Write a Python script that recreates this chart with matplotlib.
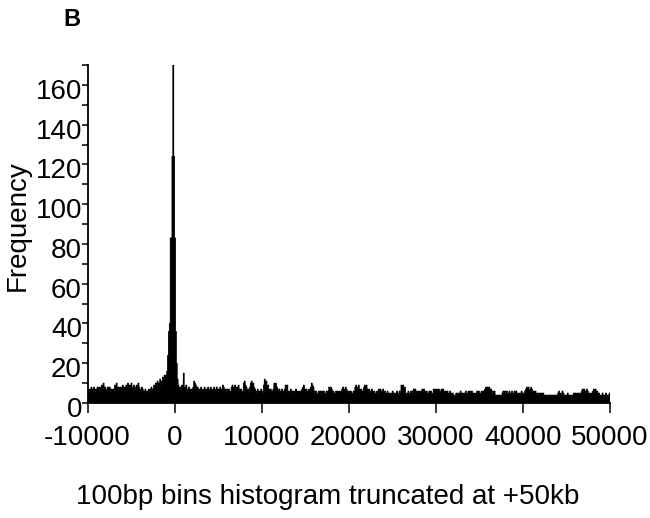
import numpy as np
import matplotlib
matplotlib.use("Agg")
import matplotlib.pyplot as plt
from matplotlib.ticker import MultipleLocator
from matplotlib.transforms import ScaledTranslation

# 100 bp bins from -10000 to +50000 (600 bins)
bin_start = -10000
bin_width = 100
counts = [
    6, 7, 5, 7, 8, 6, 7, 8, 5, 7, 6, 8, 7, 8, 6, 8, 9, 7, 10, 8,
    8, 7, 6, 8, 7, 8, 6, 7, 5, 7, 6, 9, 8, 10, 7, 8, 6, 8, 7, 8,
    9, 7, 8, 6, 9, 8, 10, 7, 9, 8, 10, 8, 7, 9, 6, 8, 9, 7, 10, 8,
    7, 6, 8, 7, 5, 6, 7, 5, 6, 6, 7, 5, 7, 8, 6, 7, 9, 8, 10, 7,
    11, 9, 10, 12, 9, 11, 13, 12, 14, 12, 14, 16, 24, 36, 40, 83, 83, 124, 170, 124,
    83, 36, 20, 12, 9, 7, 8, 6, 9, 8, 15, 8, 7, 9, 6, 7, 8, 6, 7, 5,
    7, 8, 11, 10, 9, 7, 8, 6, 7, 5, 8, 7, 6, 7, 8, 6, 7, 5, 8, 7,
    6, 8, 7, 5, 7, 8, 6, 7, 8, 6, 7, 5, 8, 6, 7, 9, 8, 6, 7, 5,
    7, 6, 7, 5, 6, 8, 9, 7, 8, 9, 7, 8, 6, 9, 7, 6, 7, 5, 6, 10,
    11, 9, 8, 6, 7, 5, 8, 10, 11, 9, 10, 8, 7, 6, 5, 7, 6, 5, 6, 7,
    6, 5, 9, 12, 10, 11, 8, 9, 7, 6, 7, 5, 6, 7, 10, 9, 10, 8, 7, 6,
    7, 5, 6, 7, 5, 6, 7, 9, 8, 9, 6, 5, 6, 7, 5, 6, 4, 6, 5, 7,
    6, 5, 6, 4, 6, 5, 7, 8, 9, 7, 6, 7, 5, 6, 7, 6, 8, 10, 9, 8,
    6, 5, 6, 4, 5, 6, 5, 6, 4, 6, 5, 6, 5, 4, 6, 5, 6, 8, 7, 8,
    7, 5, 6, 5, 4, 6, 5, 6, 5, 6, 4, 6, 7, 8, 7, 6, 8, 7, 6, 5,
    6, 5, 6, 5, 4, 6, 5, 8, 9, 7, 8, 9, 7, 6, 7, 5, 6, 8, 9, 8,
    9, 7, 6, 7, 5, 6, 7, 6, 5, 6, 4, 5, 6, 4, 7, 6, 7, 5, 6, 7,
    5, 6, 4, 5, 6, 5, 4, 5, 4, 5, 6, 4, 5, 4, 5, 6, 5, 4, 6, 5,
    9, 8, 9, 7, 8, 5, 4, 5, 6, 4, 5, 6, 5, 6, 7, 6, 7, 6, 5, 6,
    5, 6, 5, 6, 7, 6, 7, 6, 5, 6, 4, 5, 6, 5, 6, 4, 5, 7, 6, 7,
    6, 7, 6, 7, 6, 5, 7, 6, 7, 6, 5, 6, 5, 6, 4, 5, 6, 5, 4, 5,
    4, 3, 4, 5, 4, 5, 4, 5, 6, 4, 5, 4, 5, 5, 6, 4, 5, 6, 5, 6,
    5, 6, 5, 4, 5, 4, 5, 6, 5, 6, 5, 4, 6, 5, 6, 5, 7, 8, 7, 8,
    7, 8, 6, 7, 5, 6, 5, 6, 4, 3, 4, 3, 4, 4, 3, 4, 5, 6, 5, 6,
    5, 6, 4, 5, 6, 4, 5, 6, 4, 5, 6, 5, 6, 5, 4, 5, 4, 5, 6, 5,
    5, 4, 6, 7, 8, 7, 8, 6, 7, 8, 7, 5, 6, 5, 6, 5, 4, 5, 4, 5,
    4, 5, 4, 5, 3, 4, 3, 4, 3, 4, 4, 3, 4, 3, 4, 3, 4, 3, 4, 4,
    5, 6, 5, 4, 5, 6, 5, 4, 4, 3, 4, 5, 4, 3, 4, 4, 3, 4, 5, 4,
    5, 4, 5, 4, 5, 4, 5, 6, 7, 6, 7, 6, 5, 7, 6, 4, 5, 4, 5, 4,
    6, 7, 6, 7, 5, 6, 4, 5, 4, 3, 4, 5, 4, 3, 4, 5, 4, 3, 4, 5,
]
x_ticks = [-10000, 0, 10000, 20000, 30000, 40000, 50000]
y_ticks = [0, 20, 40, 60, 80, 100, 120, 140, 160]
panel_label = "B"
x_label = "100bp bins histogram truncated at +50kb"
y_label = "Frequency"

plt.rcParams['font.family'] = ['Liberation Sans', 'DejaVu Sans']

W, H = 650, 518
fig = plt.figure(figsize=(W / 100, H / 100), dpi=100)
ax_left, ax_right, ax_top, ax_bottom = 87.5, 610, 65, 403
ax = fig.add_axes([ax_left / W, 1 - ax_bottom / H,
                   (ax_right - ax_left) / W, (ax_bottom - ax_top) / H])

edges = bin_start + bin_width * np.arange(len(counts) + 1)
ax.stairs(counts, edges, fill=True, color='black', linewidth=0.6,
          edgecolor='black')

ax.set_xlim(-10000, 50000)
ax.set_ylim(0, 170)
ax.set_xticks(x_ticks)
ax.set_xticklabels([str(v) for v in x_ticks])
ax.set_yticks(y_ticks)
ax.set_yticklabels([str(v) for v in y_ticks])
ax.yaxis.set_minor_locator(MultipleLocator(10))

for s in ['top', 'right']:
    ax.spines[s].set_visible(False)
for s in ['left', 'bottom']:
    ax.spines[s].set_linewidth(1.3)

ax.tick_params(axis='x', which='major', direction='out', length=7, width=1.1,
               labelsize=20, pad=9)
ax.tick_params(axis='y', which='both', direction='out', length=4, width=1.1,
               labelsize=20, pad=0)

shift = ScaledTranslation(0, -4 / 100, fig.dpi_scale_trans)
for lbl in ax.get_yticklabels():
    lbl.set_transform(lbl.get_transform() + shift)

fig.text(72 / W, 1 - 19 / H, panel_label, fontsize=17, fontweight='bold',
         ha='center', va='center')
fig.text(18 / W, 1 - 226 / H, y_label, fontsize=20, rotation=90,
         ha='center', va='center')
fig.text(328 / W, 1 - 497 / H, x_label, fontsize=20, ha='center', va='center')

fig.savefig('out.png', dpi=100)
